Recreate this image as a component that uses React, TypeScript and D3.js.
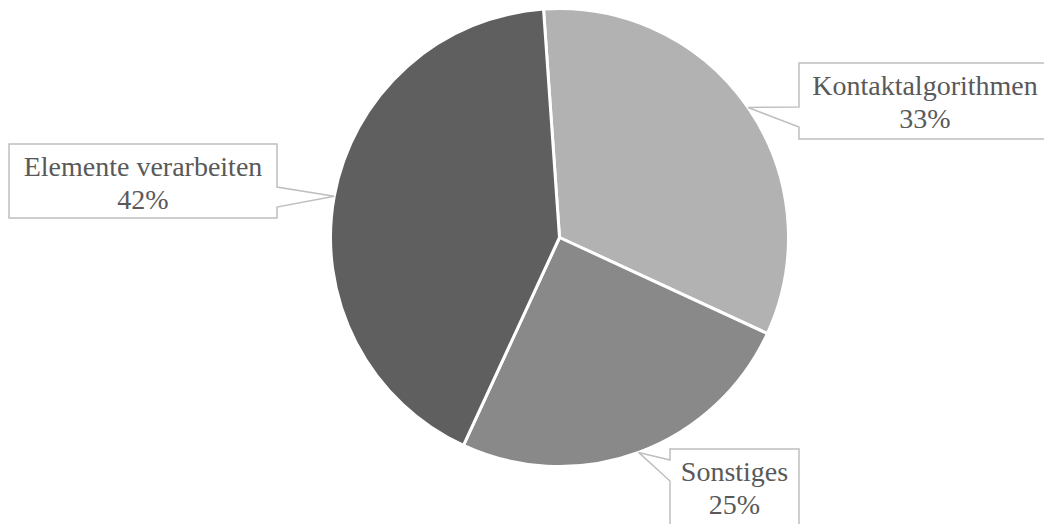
import React from "react";
import * as d3 from "d3";

const categories = ["Kontaktalgorithmen", "Sonstiges", "Elemente verarbeiten"];
const shares = [33, 25, 42];
const percentLabels = ["33%", "25%", "42%"];
const sliceColors = ["#b2b2b2", "#898989", "#5f5f5f"];

const W = 1044;
const H = 524;
const cx = 559.5;
const cy = 237.5;
const R = 229;
const startDeg = -4;
const labelFont = "'Liberation Serif', 'Times New Roman', serif";

// Callout boxes: rectangle, side that carries the pointer, and the pointer's base span
const callouts = [
  { x: 799, y: 63, w: 252, h: 76, side: "left", b0: 107, b1: 127 },
  { x: 670, y: 449, w: 129, h: 77, side: "left", b0: 460, b1: 481 },
  { x: 9, y: 144, w: 268, h: 74, side: "right", b0: 187, b1: 207 },
];

function calloutPath(c: any, tip: [number, number]) {
  const { x, y, w, h, side, b0, b1 } = c;
  const r = x + w;
  const b = y + h;
  if (side === "left") {
    return `M${x},${y}H${r}V${b}H${x}V${b1}L${tip[0]},${tip[1]}L${x},${b0}Z`;
  }
  return `M${x},${y}H${r}V${b0}L${tip[0]},${tip[1]}L${r},${b1}V${b}H${x}Z`;
}

export default function App() {
  const rad = (startDeg * Math.PI) / 180;
  const pie = d3
    .pie<number>()
    .sort(null)
    .value((d) => d)
    .startAngle(rad)
    .endAngle(rad + 2 * Math.PI);
  const arcs = pie(shares);
  const arc = d3.arc<d3.PieArcDatum<number>>().innerRadius(0).outerRadius(R);
  const edgeArc = d3.arc<d3.PieArcDatum<number>>().innerRadius(R).outerRadius(R);

  return (
    <svg
      width={W}
      height={H}
      style={{ position: "absolute", left: 0, top: 0, background: "#fff" }}
    >
      <g transform={`translate(${cx},${cy})`}>
        {arcs.map((a, i) => (
          <path
            key={categories[i]}
            d={arc(a) as string}
            fill={sliceColors[i]}
            stroke="#fff"
            strokeWidth={3}
            strokeLinejoin="round"
          />
        ))}
      </g>
      {arcs.map((a, i) => {
        const c = callouts[i];
        const [px, py] = edgeArc.centroid(a);
        const tip: [number, number] = [cx + px, cy + py];
        const mid = c.x + c.w / 2;
        const textX = i === 0 ? 925 : mid;
        return (
          <g key={"label-" + categories[i]}>
            <path
              d={calloutPath(c, tip)}
              fill="#fff"
              stroke="#bfbfbf"
              strokeWidth={1.5}
            />
            <text
              x={textX}
              y={c.y + 32}
              textAnchor="middle"
              style={{ fontFamily: labelFont, fontSize: 28 }}
              fill="#595959"
            >
              {categories[i]}
            </text>
            <text
              x={textX}
              y={c.y + 65}
              textAnchor="middle"
              style={{ fontFamily: labelFont, fontSize: 28 }}
              fill="#595959"
            >
              {percentLabels[i]}
            </text>
          </g>
        );
      })}
    </svg>
  );
}
